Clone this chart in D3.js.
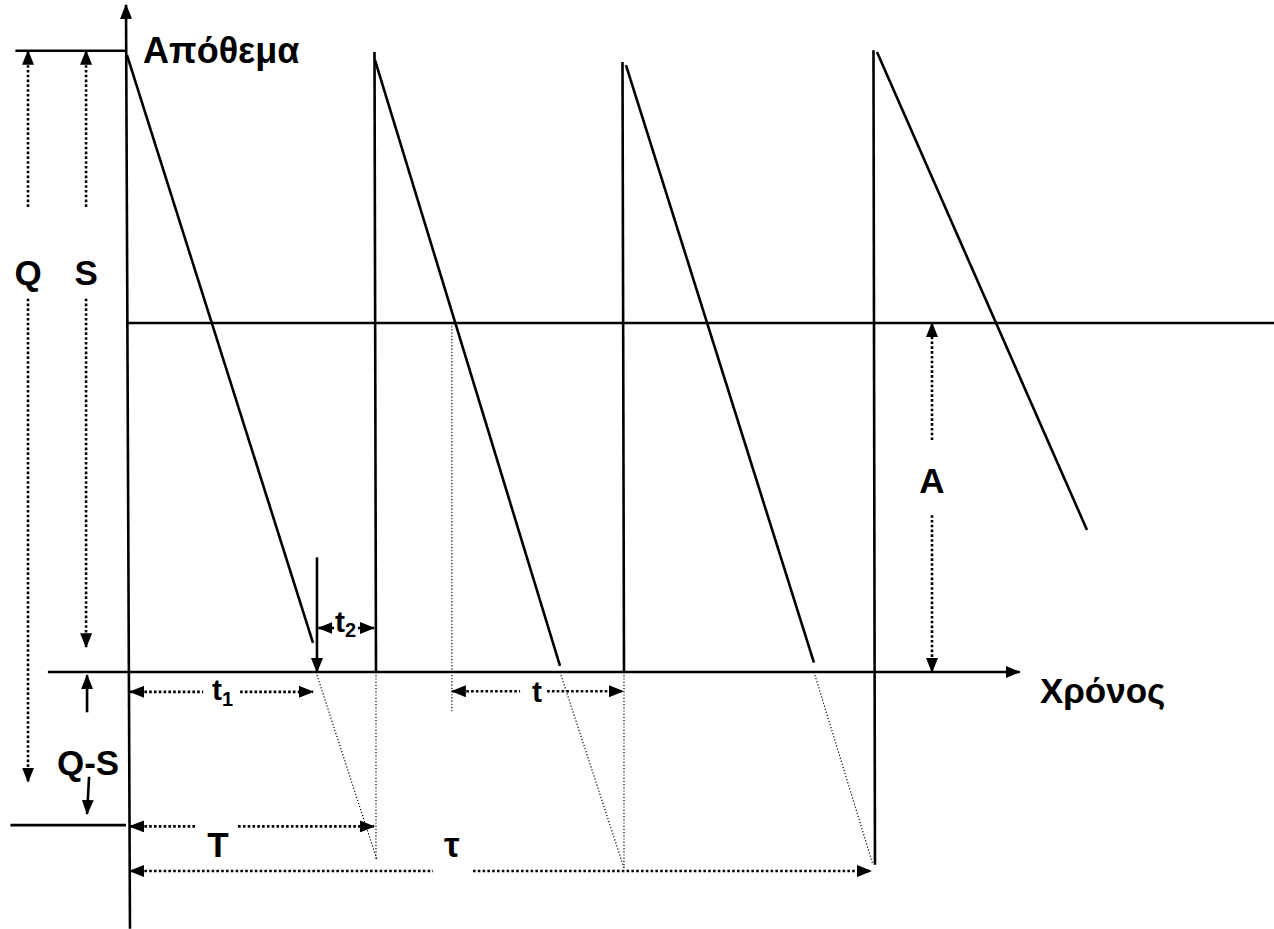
<!DOCTYPE html>
<html>
  <head>
    <meta charset="UTF-8" />
    <script src="https://d3js.org/d3.v7.min.js"></script>
    <style>
      body { margin: 0; background: #fff; }
      text { font-family: "Liberation Sans", Arial, sans-serif; font-weight: bold; fill: #000; }
    </style>
  </head>
  <body>
    <div id="my_dataviz"></div>
    <script>
      // inventory levels (S = 100 at the top line, 0 on the time axis)
      var levelS = 100, levelA = 56.3, levelQS = -24.7;

      // times are in units of one cycle T
      var declineStart = [[0.0, 99.5], [1.0, 98.7], [2.012, 97.9], [3.024, 100]];
      var declineEnd = [[0.75, 4.7], [1.746, 1.0], [2.77, 1.5], [3.871, 22.9]];
      var refillTime = [1.004, 2.004, 3.016];
      var refillTop = [100, 98.4, 100.3];
      var refillBottom = [0, 0, -31.1];
      var shortageStart = [[0.762, 0], [1.746, 0], [2.77, 0]];
      var shortageEnd = [[1.008, -30.3], [2.004, -31.6], [3.008, -31.1]];

      var width = 1274, height = 929;
      var svg = d3.select("#my_dataviz").append("svg")
        .attr("width", width).attr("height", height);

      var x = d3.scaleLinear().domain([0, 3]).range([127, 871]);
      var y = d3.scaleLinear().domain([0, 100]).range([672, 52]);

      var defs = svg.append("defs");
      defs.append("marker")
        .attr("id", "arr")
        .attr("markerUnits", "userSpaceOnUse")
        .attr("markerWidth", 15).attr("markerHeight", 12)
        .attr("refX", 14).attr("refY", 6)
        .attr("orient", "auto-start-reverse")
        .append("path").attr("d", "M0,0 L15,6 L0,12 Z").attr("fill", "#000");

      var line = d3.line().x(d => x(d[0])).y(d => y(d[1]));

      function seg(p, cls) {
        return svg.append("path").attr("d", line(p)).attr("fill", "none")
          .attr("stroke", "#000").attr("stroke-width", cls === "thin" ? 1.2 : 2.6)
          .attr("stroke-dasharray", cls === "thin" ? "1.2,2" : cls === "dot" ? "2.6,2.2" : null);
      }
      function arrow(p, cls, start, end) {
        var s = seg(p, cls);
        if (start) s.attr("marker-start", "url(#arr)");
        if (end) s.attr("marker-end", "url(#arr)");
        return s;
      }

      // axes
      arrow([[0.012, -41.4], [-0.004, 107.6]], "solid", false, true);
      arrow([[-0.319, 0], [3.6, 0]], "solid", false, true);
      seg([[-0.45, 100.2], [-0.004, 100.2]], "solid");
      seg([[-0.47, levelQS], [-0.004, levelQS]], "solid");
      seg([[-0.004, levelA], [4.65, levelA]], "solid");

      // sawtooth
      declineStart.forEach((d, i) => seg([d, declineEnd[i]], "solid"));
      refillTime.forEach((t, i) => seg([[t - 0.006, refillTop[i]], [t, refillBottom[i]]], "solid"));

      // projections below the axis
      shortageStart.forEach((d, i) => seg([d, shortageEnd[i]], "thin"));
      refillTime.slice(0, 2).forEach((t, i) => seg([[t, 0], [t, shortageEnd[i][1]]], "thin"));
      seg([[1.31, levelA], [1.31, -6.5]], "thin");

      // Q and S
      arrow([[-0.399, 100.2], [-0.399, 74.8]], "dot", true, false);
      arrow([[-0.399, 60.2], [-0.399, -17.7]], "dot", false, true);
      arrow([[-0.165, 100.2], [-0.165, 74.8]], "dot", true, false);
      arrow([[-0.165, 60.2], [-0.165, 4]], "dot", false, true);
      // Q-S
      arrow([[-0.161, -6.5], [-0.161, -0.5]], "solid", false, true);
      arrow([[-0.153, -16.9], [-0.161, -22.9]], "solid", false, true);
      // A
      arrow([[3.246, 37.4], [3.246, levelA]], "dot", false, true);
      arrow([[3.246, 25.3], [3.246, 0]], "dot", false, true);
      // t1
      arrow([[0.012, -3.2], [0.307, -3.2]], "dot", true, false);
      arrow([[0.456, -3.2], [0.75, -3.2]], "dot", false, true);
      // t2
      arrow([[0.766, 18.5], [0.766, 0]], "solid", false, true);
      arrow([[0.772, 7.1], [0.835, 7.1]], "solid", true, false);
      arrow([[0.931, 7.1], [0.996, 7.1]], "solid", false, true);
      // t
      arrow([[1.31, -3.1], [1.585, -3.1]], "dot", true, false);
      arrow([[1.694, -3.1], [2.0, -3.1]], "dot", false, true);
      // T
      arrow([[0.012, -24.9], [0.282, -24.9]], "dot", true, false);
      arrow([[0.448, -24.9], [0.996, -24.9]], "dot", false, true);
      // tau
      arrow([[0.012, -32.1], [1.234, -32.1]], "dot", true, false);
      arrow([[1.395, -32.1], [3.0, -32.1]], "dot", false, true);

      // labels
      function label(t, lv, str, size, anchor) {
        return svg.append("text").attr("x", x(t)).attr("y", y(lv))
          .attr("font-size", size).attr("text-anchor", anchor || "middle").text(str);
      }
      label(0.065, 98.3, "Απόθεμα", 36, "start");
      label(3.681, -5, "Χρόνος", 35, "start");
      label(-0.399, 62.4, "Q", 35);
      label(-0.165, 62.4, "S", 35);
      label(-0.157, -16.6, "Q-S", 35);
      label(3.246, 28.9, "A", 35);
      label(0.367, -29.8, "T", 35);
      label(1.31, -29.8, "τ", 35);

      var t1 = label(0.343, -4.5, "t", 30, "start");
      t1.append("tspan").attr("font-size", 20).attr("dy", 6).text("1");
      var t2 = label(0.839, 6.5, "t", 30, "start");
      t2.append("tspan").attr("font-size", 20).attr("dy", 5).text("2");
      label(1.653, -4.8, "t", 30);
    </script>
  </body>
</html>
